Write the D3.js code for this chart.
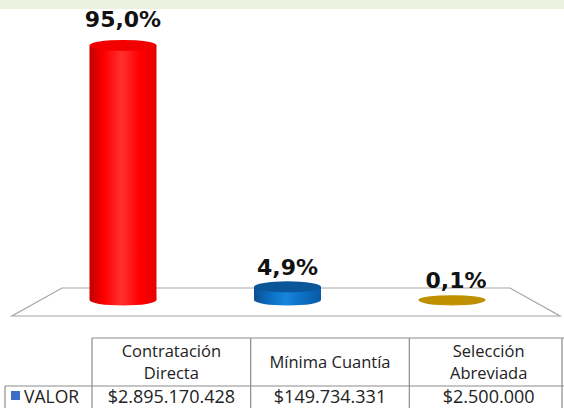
<!DOCTYPE html>
<html>
<head>
<meta charset="utf-8">
<script src="https://cdn.jsdelivr.net/npm/d3@7"></script>
<style>
  body { margin: 0; background: #fff; }
  svg { display: block; }
</style>
</head>
<body>
<svg id="chart"></svg>
<script>
// data
const categories = ["Contratación Directa", "Mínima Cuantía", "Selección Abreviada"];
const headerLines = [["Contratación", "Directa"], ["Mínima Cuantía"], ["Selección", "Abreviada"]];
const values = [2895170428, 149734331, 2500000];
const valueLabels = ["$2.895.170.428", "$149.734.331", "$2.500.000"];
const seriesName = "VALOR";

const W = 564, H = 408;
const total = d3.sum(values);
const pct = values.map(v => v / total * 100);

// palette
const BAND = '#ebf0df';
const GRID = '#a6a6a6';
const TABLE_LINE = '#8c8c8c';
const barColors = [
    {dark: '#c00000', mid: '#ff3030', light: '#ff0000', edge: '#e80000', top: '#f20000'},
    {dark: '#0a4f92', mid: '#1585dc', light: '#0c6cc0', edge: '#0a5aa2', top: '#0b5699'},
    {dark: '#a67c00', mid: '#c99a10', light: '#bf9000', edge: '#b08400', top: '#bf9000'}
];

const svg = d3.select("svg#chart")
    .attr("width", W)
    .attr("height", H)
    .style("font-family", "'Open Sans', sans-serif");

// top band
svg.append("rect").attr("x", 0).attr("y", 0).attr("width", W).attr("height", 9).attr("fill", BAND);

const x = d3.scalePoint().domain(categories).range([123, 452]);
const y = d3.scaleLinear().domain([0, 100]).range([300, 32]);
const rx = 33.5, ry = 5.5;

// floor (3d plane)
const base = y(0);
svg.append("path")
    .attr("d", `M${x.range()[0] - 61},${base - 12} L${x.range()[1] + 58},${base - 12} L${W - 4},${base + 16} L12,${base + 16} Z`)
    .attr("fill", "#fff")
    .attr("stroke", GRID)
    .attr("stroke-width", 1.2);

// gradients
const defs = svg.append("defs");
barColors.forEach((c, i) => {
    const g = defs.append("linearGradient").attr("id", "g" + i);
    g.append("stop").attr("offset", "0%").attr("stop-color", c.dark);
    g.append("stop").attr("offset", "22%").attr("stop-color", c.light);
    g.append("stop").attr("offset", "48%").attr("stop-color", c.mid);
    g.append("stop").attr("offset", "75%").attr("stop-color", c.light);
    g.append("stop").attr("offset", "100%").attr("stop-color", c.edge);
});

const bars = svg.append("g")
    .selectAll("g")
    .data(categories.map((c, i) => ({c, i, p: pct[i]})))
    .join("g");

bars.append("path")
    .attr("d", d => {
        const cx = x(d.c), yt = y(d.p);
        return `M${cx - rx},${yt} L${cx - rx},${base} A${rx},${ry} 0 0 0 ${cx + rx},${base} L${cx + rx},${yt} Z`;
    })
    .attr("fill", d => `url(#g${d.i})`);

bars.append("ellipse")
    .attr("cx", d => x(d.c))
    .attr("cy", d => y(d.p))
    .attr("rx", rx)
    .attr("ry", d => d.i === 2 ? ry - 1 : ry)
    .attr("fill", d => barColors[d.i].top);

bars.append("text")
    .attr("x", d => x(d.c) + (d.i === 2 ? 4 : 0))
    .attr("y", d => y(d.p) - (d.i === 0 ? 18 : 12))
    .attr("text-anchor", "middle")
    .attr("font-family", "'DejaVu Sans', sans-serif")
    .attr("font-weight", "bold")
    .attr("font-size", 22)
    .attr("fill", "#111")
    .text(d => d3.format(".1f")(d.p).replace(".", ",") + "%");

// data table
const col = d3.scaleBand().domain(categories).range([92, 568]);
const rowTop = 338, rowMid = 386, rowBot = 420;
const table = svg.append("g").attr("stroke", TABLE_LINE).attr("stroke-width", 1.2);

table.append("line").attr("x1", 92).attr("x2", W).attr("y1", rowTop).attr("y2", rowTop);
table.append("line").attr("x1", 5).attr("x2", W).attr("y1", rowMid).attr("y2", rowMid);
table.append("line").attr("x1", 5).attr("x2", 5).attr("y1", rowMid).attr("y2", rowBot);
table.selectAll("line.v")
    .data(categories)
    .join("line")
    .attr("class", "v")
    .attr("x1", c => col(c)).attr("x2", c => col(c))
    .attr("y1", rowTop).attr("y2", rowBot);
table.append("line").attr("x1", W - 2).attr("x2", W - 2).attr("y1", rowTop).attr("y2", rowBot);

// header cells, one text per line
const cy = (rowTop + rowMid) / 2;
categories.forEach((c, i) => {
    const lines = headerLines[i];
    const cx = col(c) + col.bandwidth() / 2;
    svg.append("g")
        .selectAll("text")
        .data(lines)
        .join("text")
        .attr("x", cx)
        .attr("y", (t, k) => cy + 6 + (k - (lines.length - 1) / 2) * 22)
        .attr("text-anchor", "middle")
        .attr("font-size", 16.5)
        .attr("fill", "#222")
        .text(t => t);
});

svg.append("g")
    .selectAll("text")
    .data(categories)
    .join("text")
    .attr("x", c => col(c) + col.bandwidth() / 2)
    .attr("y", 403)
    .attr("text-anchor", "middle")
    .attr("font-size", 18)
    .attr("fill", "#222")
    .text((c, i) => valueLabels[i]);

// legend key
svg.append("rect").attr("x", 11).attr("y", 391).attr("width", 9).attr("height", 9).attr("fill", '#3a6fc4');
svg.append("text")
    .attr("x", 24).attr("y", 403)
    .attr("font-size", 17.5)
    .attr("fill", "#222")
    .text(seriesName);
</script>
</body>
</html>
